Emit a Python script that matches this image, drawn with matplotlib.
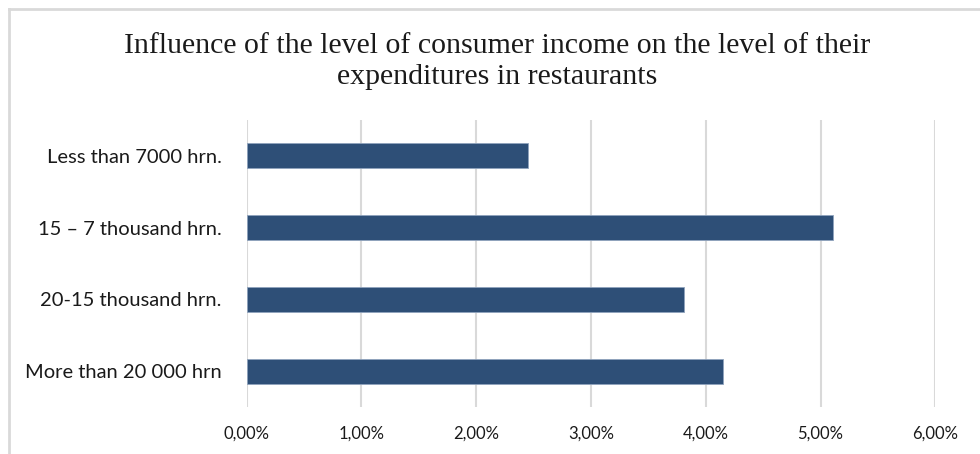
import matplotlib
matplotlib.use("Agg")
import matplotlib.pyplot as plt
from matplotlib.ticker import FuncFormatter
from matplotlib.lines import Line2D

categories = [
    "Less than 7000 hrn.",
    "15 \u2013 7 thousand hrn.",
    "20-15 thousand hrn.",
    "More than 20 000 hrn",
]
shares = [2.45, 5.11, 3.81, 4.15]  # percent of expenditures
x_ticks = [0, 1, 2, 3, 4, 5, 6]

title = "Influence of the level of consumer income on the level of their\nexpenditures in restaurants"

fig = plt.figure(figsize=(9.8, 4.54), dpi=100)
ax = fig.add_axes([0.2517, 0.1033, 0.7027, 0.6326])

ax.barh(range(len(categories)), shares, height=0.35, color="#2E4F77",
        edgecolor="#8FA3BD", linewidth=0.6, zorder=3)

ax.set_xlim(0, 6)
ax.set_ylim(-0.5, len(categories) - 0.5)
ax.invert_yaxis()
ax.set_xticks(x_ticks)
ax.xaxis.set_major_formatter(FuncFormatter(lambda v, _: f"{v:.2f}%".replace(".", ",")))
ax.set_yticks(range(len(categories)))
ax.set_yticklabels(categories)

ax.grid(axis="x", color="#D9D9D9", linewidth=1.5, zorder=0)
for s in ax.spines.values():
    s.set_visible(False)
ax.tick_params(axis="both", length=0, colors="#1A1A1A")
ax.tick_params(axis="y", pad=18, labelsize=14.5)
ax.tick_params(axis="x", pad=13, labelsize=12)
for lbl in ax.get_xticklabels() + ax.get_yticklabels():
    lbl.set_fontfamily("Lato")

fig.text(0.507, 0.864, title, ha="center", va="center", fontsize=21.5,
         family="Liberation Serif", linespacing=1.26, color="#1A1A1A")

# light chart-area frame along the top and left edges
fig.add_artist(Line2D([9 / 980, 1.0], [1 - 9 / 454, 1 - 9 / 454],
                      transform=fig.transFigure, color="#D9D9D9", linewidth=2))
fig.add_artist(Line2D([9 / 980, 9 / 980], [0, 1 - 9 / 454],
                      transform=fig.transFigure, color="#D9D9D9", linewidth=2))

fig.savefig("out.png", dpi=100, facecolor="white")
